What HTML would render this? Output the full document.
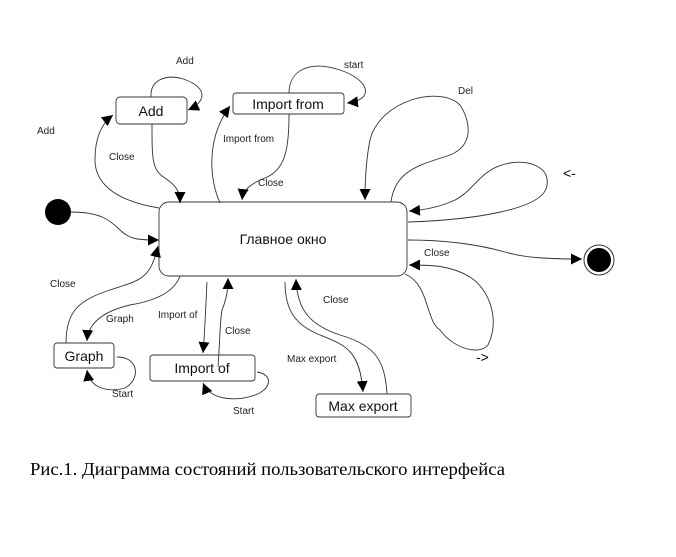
<!DOCTYPE html>
<html><head><meta charset="utf-8"><style>
html,body{margin:0;padding:0;background:#fff;width:676px;height:557px;overflow:hidden}
svg{display:block}
.l{font-family:"Liberation Sans",sans-serif;font-size:10px;fill:#222}
.b{font-family:"Liberation Sans",sans-serif;font-size:14px;fill:#111}
</style></head><body>
<svg width="676" height="557" viewBox="0 0 676 557" xmlns="http://www.w3.org/2000/svg">
<defs><marker id="a" viewBox="0 0 10 10" refX="10" refY="5" markerWidth="11" markerHeight="11" markerUnits="userSpaceOnUse" orient="auto"><path d="M0,0L10,5L0,10z" fill="#000"/></marker></defs>
<g fill="none" stroke="#333" stroke-width="0.9">
<rect x="159" y="202" width="248" height="74" rx="10" fill="#fff"/>
<rect x="116" y="97" width="71" height="27" rx="4" fill="#fff"/>
<rect x="233" y="93" width="111" height="21" rx="3" fill="#fff"/>
<rect x="54" y="343" width="60" height="25" rx="3" fill="#fff"/>
<rect x="150" y="355" width="105" height="26" rx="3" fill="#fff"/>
<rect x="316" y="394" width="95" height="23" rx="3" fill="#fff"/>
<path d="M71,212 C100,212 110,220 120,230 C130,240 140,240 159,240" marker-end="url(#a)"/>
<path d="M151,97 C150,80 165,75 180,78 C205,85 210,100 188,110" marker-end="url(#a)"/>
<path d="M159,208 C110,200 95,180 95,160 C95,140 100,125 113,115" marker-end="url(#a)"/>
<path d="M152,124 C152,160 152,170 165,178 C175,185 180,190 180,203" marker-end="url(#a)"/>
<path d="M289,93 C289,70 310,60 340,70 C370,80 375,100 347,103" marker-end="url(#a)"/>
<path d="M220,203 C210,180 205,140 230,106" marker-end="url(#a)"/>
<path d="M289,114 C289,150 285,170 265,178 C250,184 243,190 242,200" marker-end="url(#a)"/>
<path d="M391,202 C395,170 420,165 450,155 C475,145 470,120 460,105 C440,85 380,100 370,140 C366,160 365,180 365,200" marker-end="url(#a)"/>
<path d="M408,222 C470,220 545,210 547,185 C550,165 525,160 510,163 C480,168 475,190 455,200 C440,207 425,210 409,211" marker-end="url(#a)"/>
<path d="M408,240 C450,240 480,245 505,252 C525,258 550,259 582,259" marker-end="url(#a)"/>
<path d="M405,274 C430,285 425,320 440,330 C455,350 480,355 488,345 C500,320 490,290 470,277 C450,265 430,265 409,265" marker-end="url(#a)"/>
<path d="M66,343 C66,310 80,300 110,290 C140,280 150,280 158,246" marker-end="url(#a)"/>
<path d="M180,276 C175,290 160,300 130,305 C100,312 88,325 87,341" marker-end="url(#a)"/>
<path d="M117,357 C140,357 140,380 125,388 C110,392 90,390 87,370" marker-end="url(#a)"/>
<path d="M207,282 C206,300 205,330 203,353" marker-end="url(#a)"/>
<path d="M218,367 C220,340 220,320 222,310 C226,300 228,292 228,278" marker-end="url(#a)"/>
<path d="M257,372 C275,375 270,390 255,395 C235,402 210,400 203,383" marker-end="url(#a)"/>
<path d="M285,282 C285,310 295,325 320,335 C345,345 360,350 363,392" marker-end="url(#a)"/>
<path d="M387,394 C385,360 375,345 340,335 C310,325 297,310 296,279" marker-end="url(#a)"/>
</g>
<circle cx="58" cy="212" r="13" fill="#000"/>
<circle cx="599" cy="260" r="15" fill="#fff" stroke="#333" stroke-width="1"/>
<circle cx="599" cy="260" r="12" fill="#000"/>
<text class="b" x="283" y="244" text-anchor="middle">Главное окно</text>
<text class="b" x="151" y="116" text-anchor="middle">Add</text>
<text class="b" x="288" y="109" text-anchor="middle">Import from</text>
<text class="b" x="84" y="361" text-anchor="middle">Graph</text>
<text class="b" x="202" y="373" text-anchor="middle">Import of</text>
<text class="b" x="363" y="411" text-anchor="middle">Max export</text>
<text class="l" x="176" y="64">Add</text>
<text class="l" x="37" y="134">Add</text>
<text class="l" x="109" y="160">Close</text>
<text class="l" x="344" y="68">start</text>
<text class="l" x="223" y="142">Import from</text>
<text class="l" x="258" y="186">Close</text>
<text class="l" x="458" y="94">Del</text>
<text x="563" y="178" style="font-family:'Liberation Sans',sans-serif;font-size:14px">&lt;-</text>
<text class="l" x="424" y="256">Close</text>
<text x="476" y="362" style="font-family:'Liberation Sans',sans-serif;font-size:14px">-&gt;</text>
<text class="l" x="50" y="287">Close</text>
<text class="l" x="106" y="322">Graph</text>
<text class="l" x="158" y="318">Import of</text>
<text class="l" x="225" y="334">Close</text>
<text class="l" x="112" y="397">Start</text>
<text class="l" x="233" y="414">Start</text>
<text class="l" x="323" y="303">Close</text>
<text class="l" x="287" y="362">Max export</text>
<text x="30" y="475" textLength="475" lengthAdjust="spacingAndGlyphs" style="font-family:'Liberation Serif',serif;font-size:18px;fill:#000">Рис.1. Диаграмма состояний пользовательского интерфейса</text>
</svg>
</body></html>
